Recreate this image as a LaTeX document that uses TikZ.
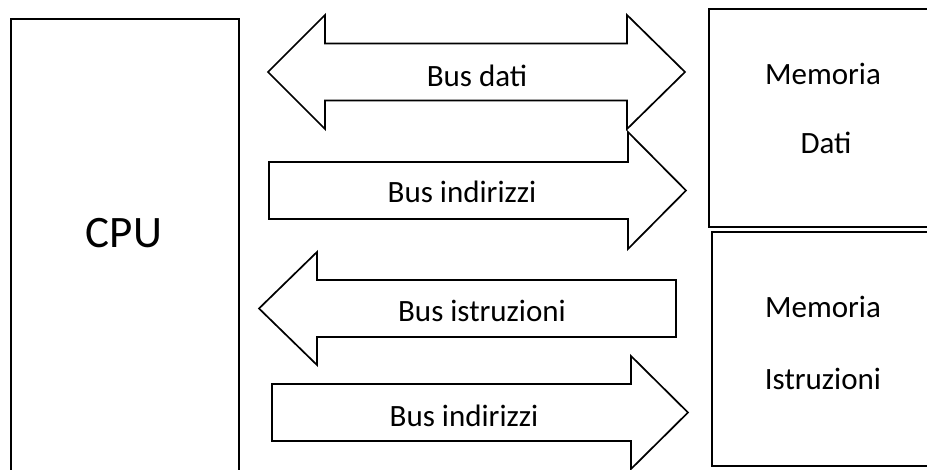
\documentclass[tikz,border=0pt]{standalone}
\usepackage{fontspec}
\setmainfont{Carlito}
\usepackage{tikz}
\def\cpubox{(11,19) rectangle (239,480)}
\def\datibox{(709,9) rectangle (940,227)}
\def\istrbox{(712,232) rectangle (940,466)}
\def\busdati{(268,72) -- (325,15) -- (325,43.5) -- (627,43.5) -- (627,15) -- (685,72) -- (627,129) -- (627,100.5) -- (325,100.5) -- (325,129) -- cycle}
\def\busindA{(269,162) -- (628,162) -- (628,132) -- (686,190.5) -- (628,249) -- (628,219) -- (269,219) -- cycle}
\def\busistr{(259,308.5) -- (317,252) -- (317,280) -- (676,280) -- (676,337) -- (317,337) -- (317,365) -- cycle}
\def\busindB{(272,384) -- (631,384) -- (631,356) -- (688,412.5) -- (631,469) -- (631,441) -- (272,441) -- cycle}

\begin{document}
\begin{tikzpicture}[x=1pt,y=-1pt,
    box/.style={line width=2pt},
    bus/.style={line width=1.7pt, line join=miter},
    bustext/.style={anchor=base, inner sep=0pt, font=\fontsize{31}{31}\selectfont}]
    \useasboundingbox (0,0) rectangle (927,470);
    \clip (0,0) rectangle (927,470);
    \draw[box] \cpubox;
    \draw[box] \datibox;
    \draw[box] \istrbox;
    \draw[bus] \busdati;
    \draw[bus] \busindA;
    \draw[bus] \busistr;
    \draw[bus] \busindB;
    \node[bustext, font=\fontsize{45}{45}\selectfont] (cpu) at (124,248) {CPU};
    \node[bustext] (dati) at (477,87) {Bus dati};
    \node[bustext] (indA) at (462,203) {Bus indirizzi};
    \node[bustext] (istr) at (482,322) {Bus istruzioni};
    \node[bustext] (indB) at (464,427) {Bus indirizzi};
    \node[bustext] (memA) at (823,85) {Memoria};
    \node[bustext] (memdati) at (826,154) {Dati};
    \node[bustext] (memB) at (823,318) {Memoria};
    \node[bustext] (memistr) at (823,390) {Istruzioni};
\end{tikzpicture}
\end{document}
